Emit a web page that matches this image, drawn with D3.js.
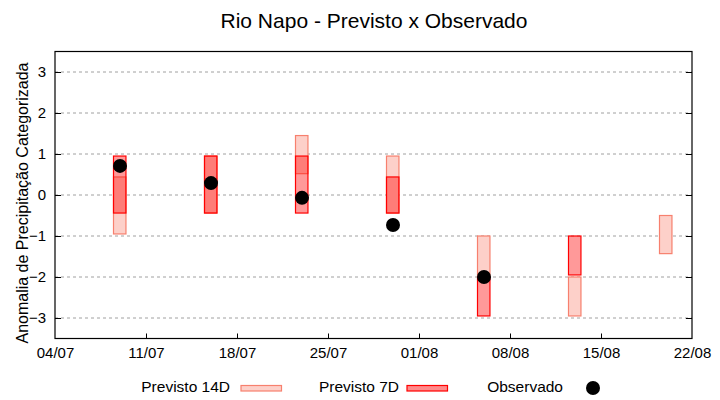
<!DOCTYPE html>
<html>
<head>
<meta charset="utf-8">
<script src="https://cdn.jsdelivr.net/npm/d3@7"></script>
<style>
	body { margin: 0; background: #fff; }
	text { font-family: "Liberation Sans", Arial, sans-serif; }
</style>
</head>
<body>
<div id="chart"></div>
<script>
// dados
const datas = ["09/07", "16/07", "23/07", "30/07", "06/08", "13/08", "20/08"];
const prev14Min = [-0.95, -0.44, 0.52, -0.44, -2.0, -2.95, -1.43];
const prev14Max = [0.44, 0.95, 1.45, 0.95, -1.0, -2.0, -0.5];
const prev7Min = [-0.44, -0.44, -0.44, -0.44, -2.95, -1.95, null];
const prev7Max = [0.95, 0.95, 0.95, 0.44, -2.0, -1.0, null];
const observado = [0.71, 0.29, -0.07, -0.73, -2.0, null, null];
const xTicks = ["04/07", "11/07", "18/07", "25/07", "01/08", "08/08", "15/08", "22/08"];
const yTicks = [-3, -2, -1, 0, 1, 2, 3];

const parse = d3.timeParse("%d/%m");
const fmt = d3.timeFormat("%d/%m");

const W = 720, H = 400;
const margin = { top: 51.5, right: 28, bottom: 61.5, left: 55 };
const width = W - margin.left - margin.right;
const height = H - margin.top - margin.bottom;

const svg = d3.select("#chart").append("svg").attr("width", W).attr("height", H);

svg.append("text")
	.attr("x", 374).attr("y", 28)
	.attr("text-anchor", "middle")
	.style("font-size", "21px")
	.text("Rio Napo - Previsto x Observado");

const g = svg.append("g").attr("transform", `translate(${margin.left}, ${margin.top})`);

const x = d3.scaleTime().domain([parse(xTicks[0]), parse(xTicks[xTicks.length - 1])]).range([0, width]);
const y = d3.scaleLinear().domain([-3.5, 3.5]).range([height, 0]);

// grid
g.append("g")
	.selectAll("line")
	.data(yTicks)
	.join("line")
	.attr("x1", 0).attr("x2", width)
	.attr("y1", (d) => y(d)).attr("y2", (d) => y(d))
	.style("stroke", "#a0a0a0")
	.style("stroke-dasharray", "3,3");

// eixos
const yAxisL = g.append("g").call(d3.axisLeft(y).tickValues(yTicks).tickSize(-6).tickPadding(9).tickFormat(d3.format("d")));
const yAxisR = g.append("g").attr("transform", `translate(${width}, 0)`).call(d3.axisRight(y).tickValues(yTicks).tickSize(-6).tickFormat(""));
const xAxis = g.append("g").attr("transform", `translate(0, ${height})`)
	.call(d3.axisBottom(x).tickValues(xTicks.map(parse)).tickSize(-5).tickPadding(9).tickFormat(fmt));
[yAxisL, yAxisR, xAxis].forEach((a) => {
	a.select(".domain").remove();
	a.selectAll("line").style("stroke", "#000");
	a.selectAll("text").style("font-size", "15px").style("font-family", "Liberation Sans, Arial, sans-serif").style("fill", "#000");
});
xAxis.selectAll(".tick line").filter((d, i) => i === 0 || i === xTicks.length - 1).remove();

g.append("rect")
	.attr("width", width).attr("height", height)
	.style("fill", "none").style("stroke", "#000").style("stroke-width", 1.2);

// barras
const half = 11.4; // horas
const rows = datas.map((d, i) => ({
	date: parse(d),
	min14: prev14Min[i], max14: prev14Max[i],
	min7: prev7Min[i], max7: prev7Max[i],
	obs: observado[i],
}));

g.append("g")
	.selectAll("rect")
	.data(rows.filter((d) => d.min14 !== null))
	.join("rect")
	.attr("x", (d) => x(d3.timeHour.offset(d.date, -half)))
	.attr("width", (d) => x(d3.timeHour.offset(d.date, half)) - x(d3.timeHour.offset(d.date, -half)))
	.attr("y", (d) => y(d.max14))
	.attr("height", (d) => y(d.min14) - y(d.max14))
	.style("fill", "#fdd0c9")
	.style("stroke", "#f7806e")
	.style("stroke-width", 1.2);

g.append("g")
	.selectAll("rect")
	.data(rows.filter((d) => d.min7 !== null))
	.join("rect")
	.attr("x", (d) => x(d3.timeHour.offset(d.date, -half)))
	.attr("width", (d) => x(d3.timeHour.offset(d.date, half)) - x(d3.timeHour.offset(d.date, -half)))
	.attr("y", (d) => y(d.max7))
	.attr("height", (d) => y(d.min7) - y(d.max7))
	.style("fill", "rgba(255,0,0,0.4)")
	.style("stroke", "#ff0000")
	.style("stroke-width", 1.2);

g.append("g")
	.selectAll("circle")
	.data(rows.filter((d) => d.obs !== null))
	.join("circle")
	.attr("cx", (d) => x(d.date))
	.attr("cy", (d) => y(d.obs))
	.attr("r", 7)
	.style("fill", "#000");

// titulo eixo y
svg.append("text")
	.attr("transform", "translate(28, 203) rotate(-90)")
	.attr("text-anchor", "middle")
	.style("font-size", "16px")
	.text("Anomalia de Precipitação Categorizada");

// legenda
const legend = svg.append("g");
const items = [
	{ label: "Previsto 14D", tx: 230, sx: 241, fill: "#fdd0c9", stroke: "#f7806e" },
	{ label: "Previsto 7D", tx: 399, sx: 407, fill: "#ff8a8a", stroke: "#ff0000" },
];
items.forEach((it) => {
	legend.append("text").attr("x", it.tx).attr("y", 392).attr("text-anchor", "end").style("font-size", "15.5px").text(it.label);
	legend.append("rect").attr("x", it.sx).attr("y", 385.5).attr("width", 40.5).attr("height", 5.5)
		.style("fill", it.fill).style("stroke", it.stroke).style("stroke-width", 1.2);
});
legend.append("text").attr("x", 563).attr("y", 392).attr("text-anchor", "end").style("font-size", "15.5px").text("Observado");
legend.append("circle").attr("cx", 593).attr("cy", 388).attr("r", 7).style("fill", "#000");
</script>
</body>
</html>
